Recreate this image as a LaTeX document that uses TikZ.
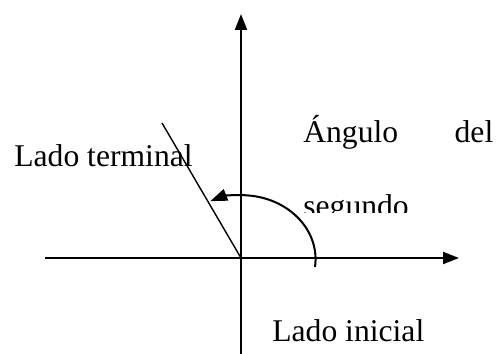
\documentclass[tikz,border=0pt]{standalone}
\usepackage{fontspec}
\setmainfont{Liberation Serif}
\usepackage{tikz}
\usetikzlibrary{arrows.meta,positioning}

\begin{document}
\begin{tikzpicture}[
  x=0.02cm,y=0.02cm,
  font=\fontsize{18}{20}\selectfont,
  lbl/.style={inner sep=0pt,anchor=base west},
  axis/.style={line width=1.15pt,-{Triangle[length=0.32cm,width=0.24cm]}},
  turn/.style={line width=1.15pt,-{Triangle[length=0.34cm,width=0.24cm]}}
]
  \useasboundingbox (0,0) rectangle (498,354);
  \coordinate (O) at (241,96);
  \coordinate (xl) at (45,96);
  \coordinate (xr) at (459,96);
  \coordinate (yd) at (241,0);
  \coordinate (yu) at (241,340);
  \coordinate (term) at (162,231);
  \draw[axis] (xl)--(xr);
  \draw[axis] (yd)--(yu);
  \draw[line width=0.8pt] (O)--(term);
  \draw[turn] ([shift={(74,-9)}]O) arc[start angle=-7,end angle=115,x radius=74,y radius=64];
  \node[lbl] (lterm) at (14,187.3) {Lado terminal};
  \node[lbl,text width=3.8cm] (lang) at (303,211) {Ángulo\hfill del};
  \begin{scope}
    \clip (295,141) rectangle (420,170);
    \node[lbl] (lseg) at (303,137) {segundo};
  \end{scope}
  \node[lbl] (lini) at (272,12.3) {Lado inicial};
\end{tikzpicture}
\end{document}
